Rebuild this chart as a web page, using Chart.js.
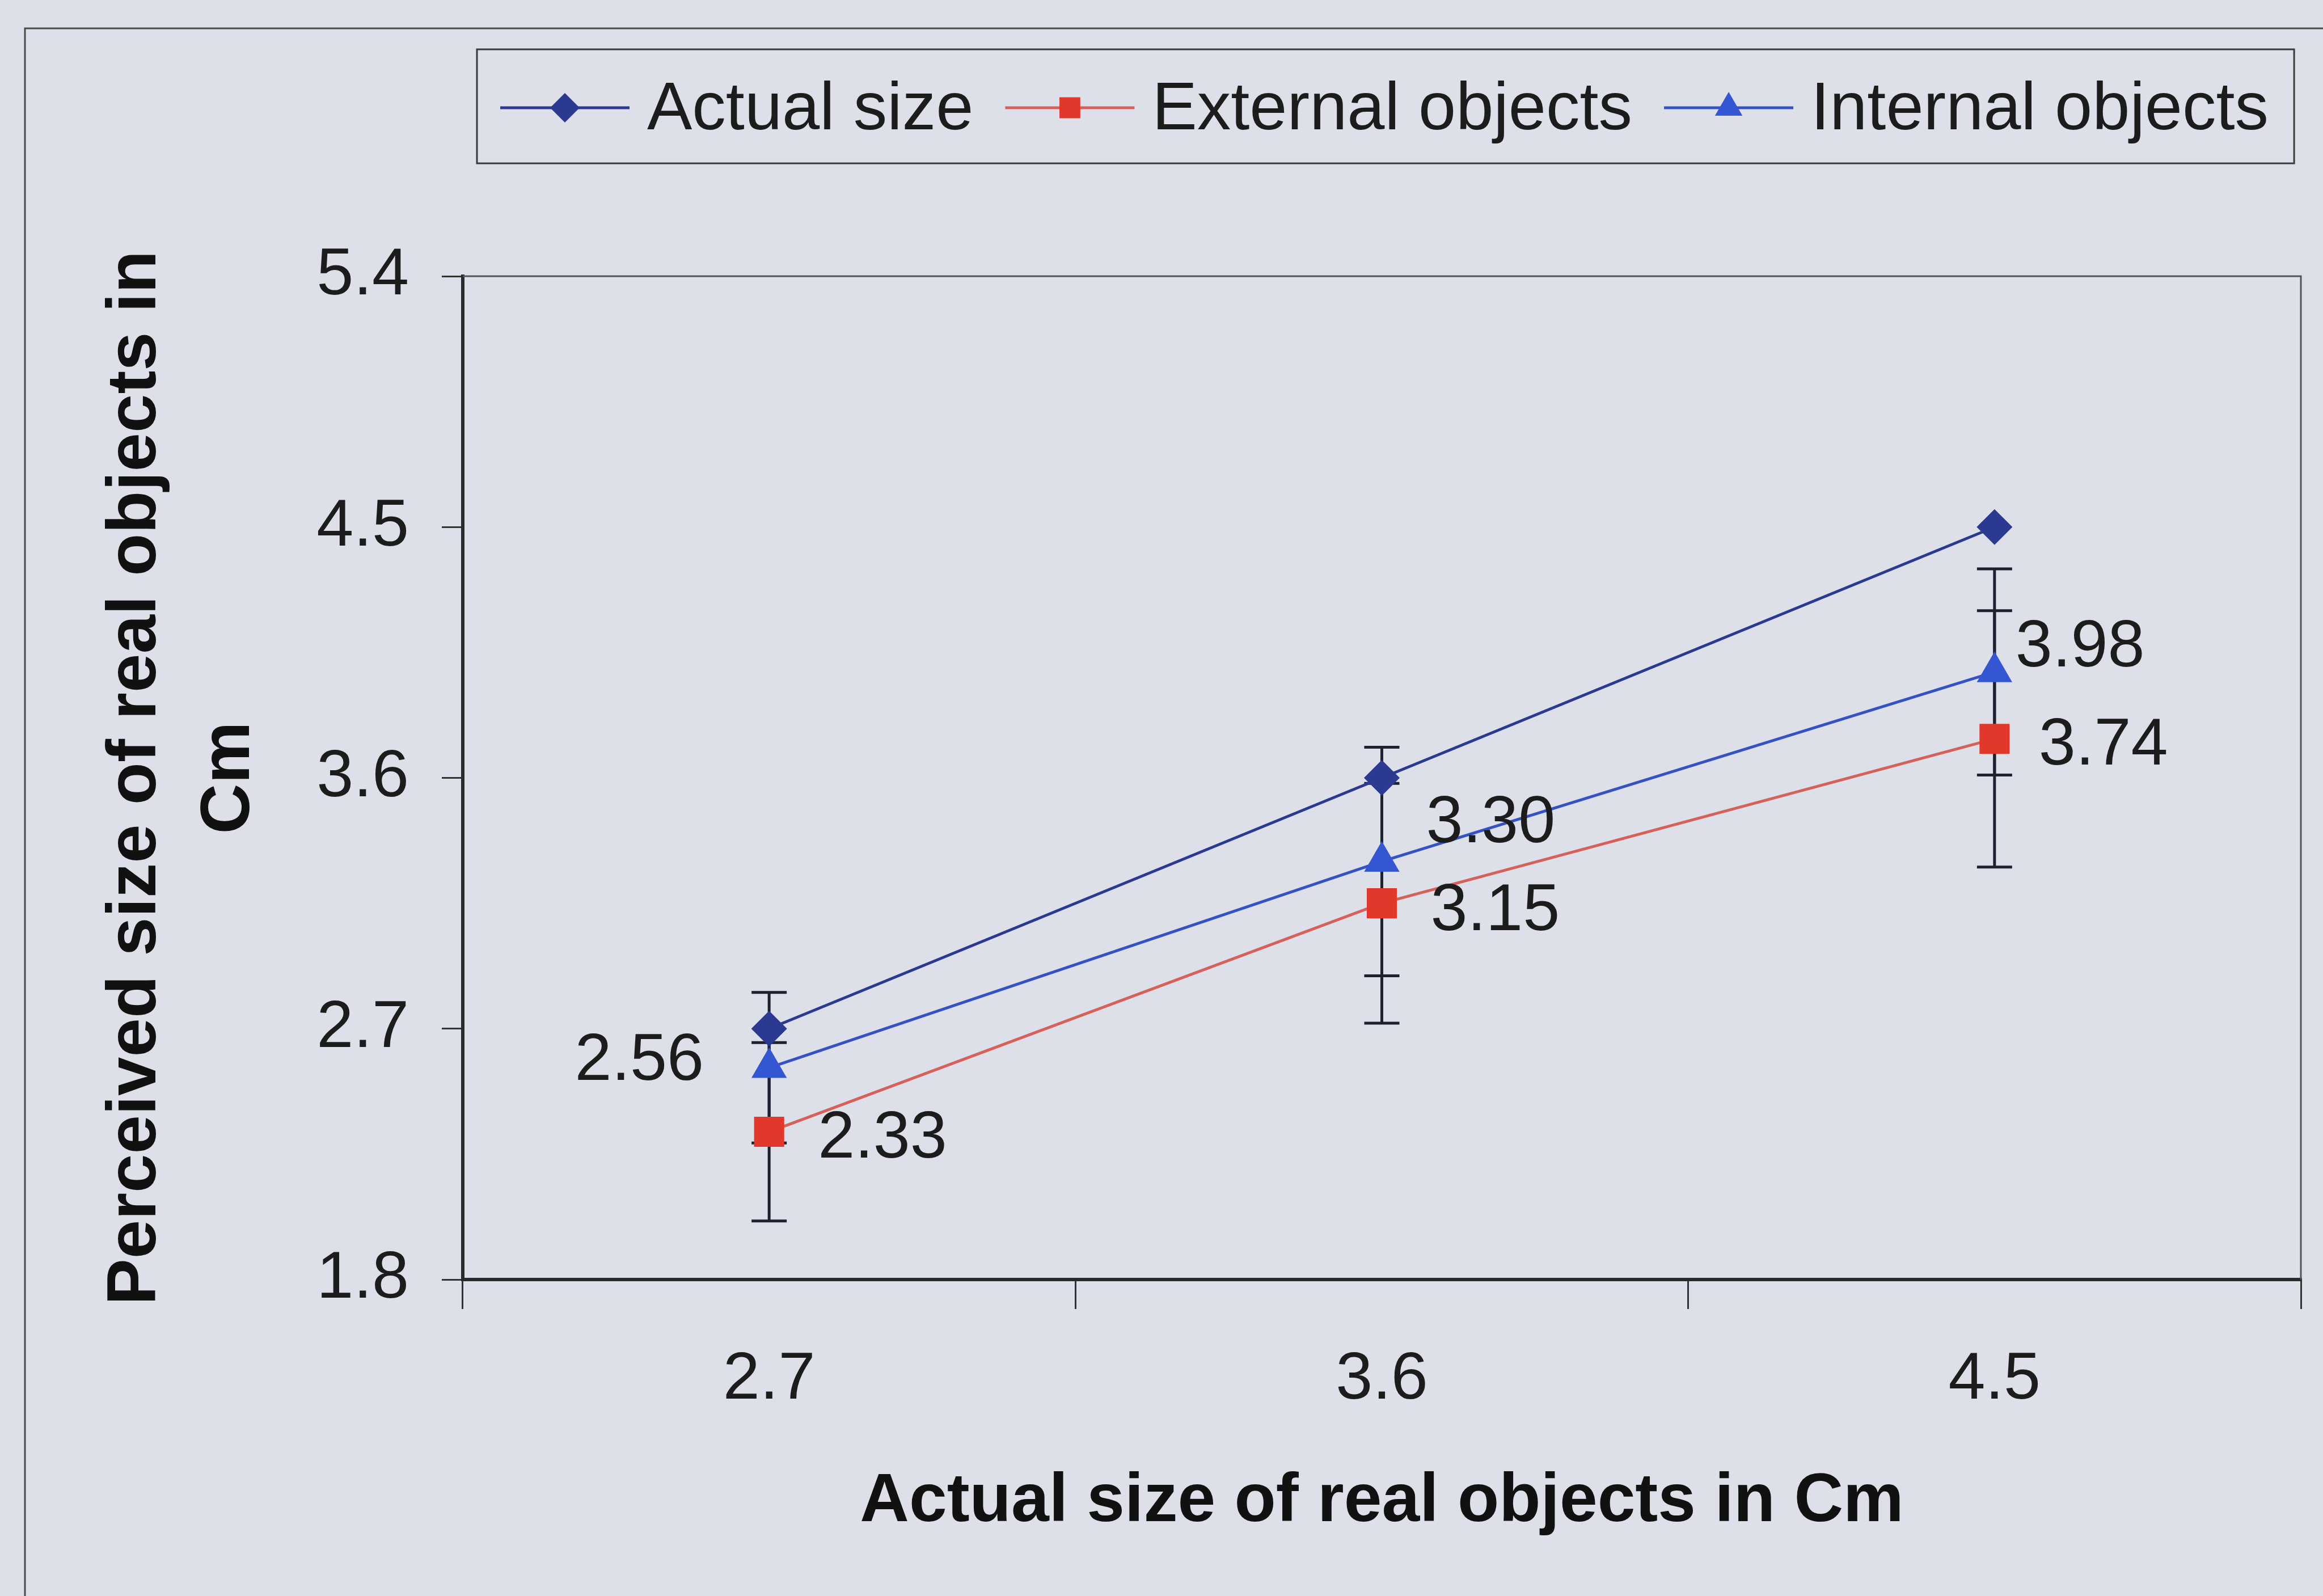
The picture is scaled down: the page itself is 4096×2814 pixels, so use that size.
<!DOCTYPE html>
<html>
<head>
<meta charset="utf-8">
<script src="https://cdn.jsdelivr.net/npm/chart.js@4.4.1/dist/chart.umd.min.js"></script>
<style>
  html, body { margin: 0; padding: 0; background: #dde0e8; }
  #wrap { width: 4096px; height: 2814px; }
</style>
</head>
<body>
<div id="wrap"><canvas id="chartSizes" width="4096" height="2814"></canvas></div>
<script>
// ===== DATA =====
const categories = ['2.7', '3.6', '4.5'];
const actualSize = [2.7, 3.6, 4.5];
const externalObjects = [2.33, 3.15, 3.74];
const internalObjects = [2.56, 3.30, 3.98];
const externalErr = [0.32, 0.43, 0.46];
const internalErr = [0.27, 0.41, 0.37];
const yTicks = [1.8, 2.7, 3.6, 4.5, 5.4];

// where the value labels sit, relative to their point (px)
const externalLabelPos = [[86, 8], [86, 10], [78, 8]];
const internalLabelPos = [[-115, -16], [78, -71], [37, -47]];

const FONT = '"Liberation Sans", Arial, sans-serif';
const TEXT = '#1c1c1c';

// draw one marker shape (used by the legend)
function drawMarker(ctx, style, x, y, r, color) {
  ctx.fillStyle = color;
  ctx.beginPath();
  if (style === 'rectRot') {
    ctx.moveTo(x, y - r); ctx.lineTo(x + r, y); ctx.lineTo(x, y + r); ctx.lineTo(x - r, y);
  } else if (style === 'rect') {
    const h = r * Math.SQRT1_2;
    ctx.rect(x - h, y - h, 2 * h, 2 * h);
  } else {
    ctx.moveTo(x, y - r);
    ctx.lineTo(x + r * 0.866, y + r / 2);
    ctx.lineTo(x - r * 0.866, y + r / 2);
  }
  ctx.closePath();
  ctx.fill();
}

// ===== PLUGINS =====
const background = {
  id: 'background',
  beforeDraw(chart) {
    const ctx = chart.ctx;
    ctx.save();
    ctx.fillStyle = '#dde0e8';
    ctx.fillRect(0, 0, chart.width, chart.height);
    // outer frame, only left and top edges are inside the picture
    ctx.strokeStyle = '#4a4a4a';
    ctx.lineWidth = 3;
    ctx.strokeRect(44, 50, chart.width + 100, chart.height + 100);
    ctx.restore();
  }
};

const plotBorder = {
  id: 'plotBorder',
  beforeDatasetsDraw(chart) {
    const { ctx, chartArea: a } = chart;
    ctx.save();
    ctx.strokeStyle = '#555';
    ctx.lineWidth = 3;
    ctx.beginPath();
    ctx.moveTo(a.left, a.top);
    ctx.lineTo(a.right, a.top);
    ctx.lineTo(a.right, a.bottom);
    ctx.stroke();
    ctx.restore();
  }
};

const errorBars = {
  id: 'errorBars',
  beforeDatasetsDraw(chart) {
    const { ctx, scales: { y } } = chart;
    ctx.save();
    ctx.strokeStyle = '#1d2130';
    ctx.lineWidth = 5;
    chart.data.datasets.forEach((ds, i) => {
      if (!ds.errors) return;
      chart.getDatasetMeta(i).data.forEach((pt, j) => {
        const top = y.getPixelForValue(ds.data[j] + ds.errors[j]);
        const bot = y.getPixelForValue(ds.data[j] - ds.errors[j]);
        ctx.beginPath();
        ctx.moveTo(pt.x, top); ctx.lineTo(pt.x, bot);
        ctx.moveTo(pt.x - 31, top); ctx.lineTo(pt.x + 31, top);
        ctx.moveTo(pt.x - 31, bot); ctx.lineTo(pt.x + 31, bot);
        ctx.stroke();
      });
    });
    ctx.restore();
  }
};

const valueLabels = {
  id: 'valueLabels',
  afterDatasetsDraw(chart) {
    const ctx = chart.ctx;
    ctx.save();
    ctx.font = `117px ${FONT}`;
    ctx.fillStyle = TEXT;
    ctx.textBaseline = 'middle';
    chart.data.datasets.forEach((ds, i) => {
      if (!ds.labelPos) return;
      chart.getDatasetMeta(i).data.forEach((pt, j) => {
        const [dx, dy] = ds.labelPos[j];
        ctx.textAlign = dx < 0 ? 'right' : 'left';
        ctx.fillText(ds.data[j].toFixed(2), pt.x + dx, pt.y + dy + 5);
      });
    });
    ctx.restore();
  }
};

const boxLegend = {
  id: 'boxLegend',
  afterDraw(chart) {
    const ctx = chart.ctx;
    const y = 190;
    const start = 882;
    let x = start;
    ctx.save();
    ctx.font = `119px ${FONT}`;
    ctx.textBaseline = 'middle';
    ctx.textAlign = 'left';
    chart.data.datasets.forEach(ds => {
      ctx.strokeStyle = ds.borderColor;
      ctx.lineWidth = 5;
      ctx.beginPath();
      ctx.moveTo(x, y);
      ctx.lineTo(x + 228, y);
      ctx.stroke();
      drawMarker(ctx, ds.pointStyle, x + 114, y, ds.legendRadius, ds.pointBackgroundColor);
      x += 228 + 31;
      ctx.fillStyle = TEXT;
      ctx.fillText(ds.label, x, y + 5);
      x += ctx.measureText(ds.label).width + 56;
    });
    ctx.strokeStyle = '#3a3a3a';
    ctx.lineWidth = 3;
    ctx.strokeRect(start - 41, 87, (x - 56 + 45) - (start - 41), 201);
    ctx.restore();
  }
};

// ===== CHART =====
new Chart(document.getElementById('chartSizes'), {
  type: 'line',
  data: {
    labels: categories,
    datasets: [
      {
        label: 'Actual size',
        data: actualSize,
        borderColor: '#2b3990',
        backgroundColor: '#2b3990',
        pointBackgroundColor: '#2b3990',
        pointBorderColor: '#2b3990',
        pointStyle: 'rectRot',
        pointRadius: 28,
        legendRadius: 26,
        borderWidth: 5
      },
      {
        label: 'External objects',
        data: externalObjects,
        errors: externalErr,
        labelPos: externalLabelPos,
        borderColor: '#d6605a',
        backgroundColor: '#e2382b',
        pointBackgroundColor: '#e2382b',
        pointBorderColor: '#e2382b',
        pointStyle: 'rect',
        pointRadius: 34,
        legendRadius: 26,
        borderWidth: 5
      },
      {
        label: 'Internal objects',
        data: internalObjects,
        errors: internalErr,
        labelPos: internalLabelPos,
        borderColor: '#3552c4',
        backgroundColor: '#3456d2',
        pointBackgroundColor: '#3456d2',
        pointBorderColor: '#3456d2',
        pointStyle: 'triangle',
        pointRadius: 31,
        legendRadius: 28,
        borderWidth: 5
      }
    ]
  },
  options: {
    responsive: false,
    animation: false,
    devicePixelRatio: 1,
    layout: { padding: { top: 487, right: 22, bottom: 0, left: 0 } },
    plugins: {
      legend: { display: false },
      tooltip: { enabled: false }
    },
    scales: {
      x: {
        offset: true,
        grid: { offset: true, drawOnChartArea: false, tickLength: 52, color: '#333', lineWidth: 3 },
        border: { color: '#2a2a2a', width: 6 },
        ticks: { color: TEXT, font: { family: FONT, size: 117 }, padding: 56 },
        title: {
          display: true,
          text: 'Actual size of real objects in Cm',
          color: '#111',
          font: { family: FONT, size: 120, weight: 'bold' },
          padding: { top: 0, bottom: 93 }
        },
        afterFit(scale) { scale.height = 558; }
      },
      y: {
        min: 1.8,
        max: 5.4,
        afterBuildTicks(scale) { scale.ticks = yTicks.map(v => ({ value: v })); },
        grid: { drawOnChartArea: false, tickLength: 37, color: '#333', lineWidth: 3 },
        border: { color: '#2a2a2a', width: 6 },
        ticks: {
          color: TEXT,
          font: { family: FONT, size: 117 },
          padding: 58,
          callback: v => v.toFixed(1)
        },
        title: {
          display: true,
          text: ['Perceived size of real objects in', 'Cm'],
          color: '#111',
          font: { family: FONT, size: 123, weight: 'bold', lineHeight: 1.34 },
          padding: { top: 158, bottom: 0 }
        },
        afterFit(scale) { scale.width = 816; }
      }
    }
  },
  plugins: [background, plotBorder, errorBars, valueLabels, boxLegend]
});
</script>
</body>
</html>
